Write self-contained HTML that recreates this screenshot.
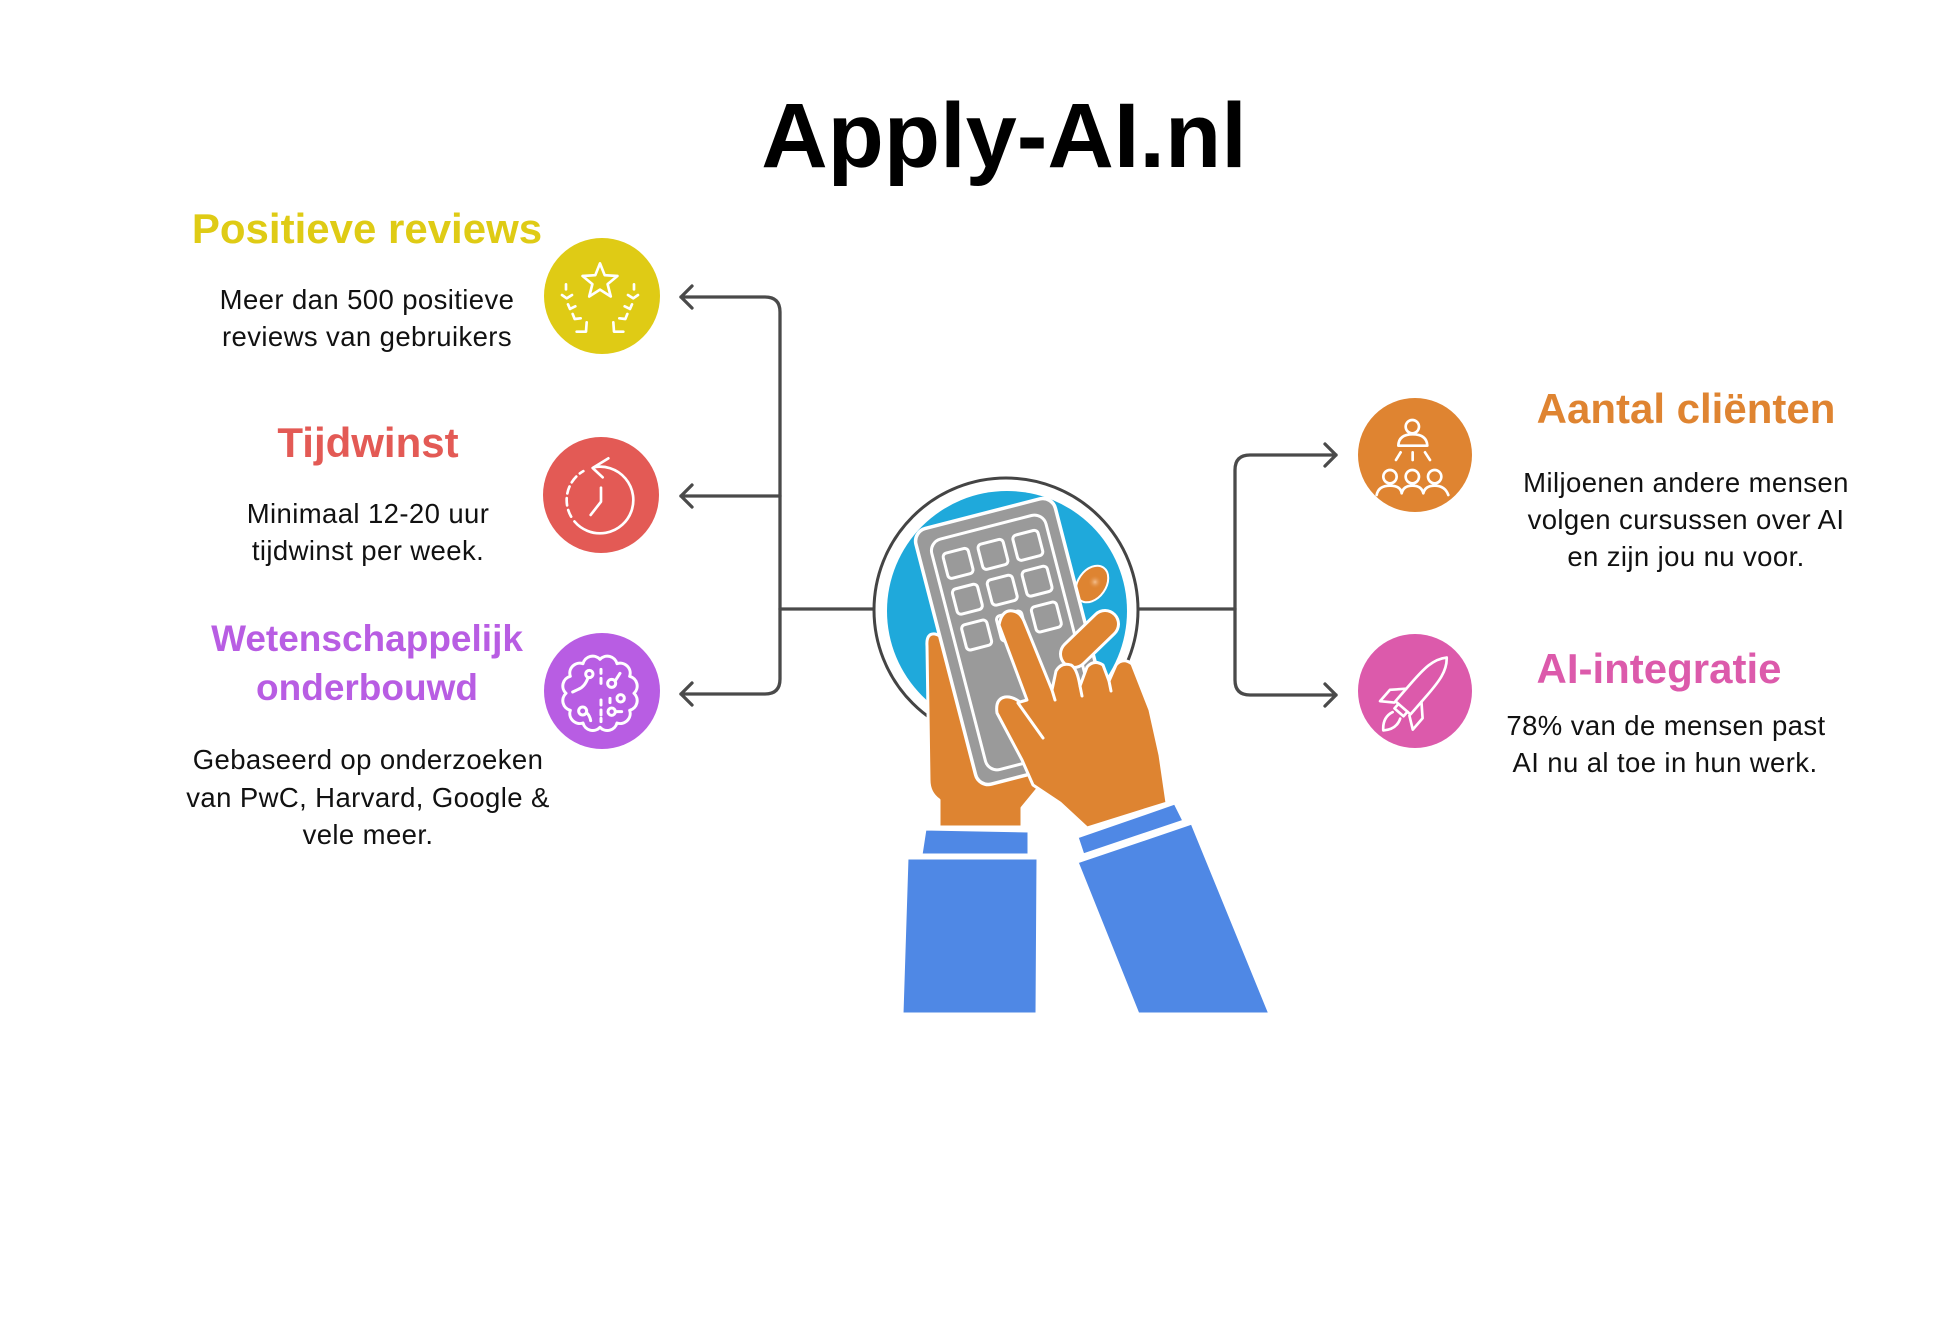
<!DOCTYPE html>
<html>
<head>
<meta charset="utf-8">
<style>
  html,body{margin:0;padding:0;background:#fff;}
  svg{display:block;}
</style>
</head>
<body>
<svg width="1946" height="1323" viewBox="0 0 1946 1323" xmlns="http://www.w3.org/2000/svg" font-family="'Liberation Sans', Arial, sans-serif">
  <defs>
    <radialGradient id="hl" cx="0.5" cy="0.5" r="0.5">
      <stop offset="0" stop-color="#F6C69A" stop-opacity="0.9"/>
      <stop offset="1" stop-color="#DE8431" stop-opacity="0"/>
    </radialGradient>
  </defs>
  <rect width="1946" height="1323" fill="#ffffff"/>

  <!-- Title -->
  <text x="1004" y="167" font-size="92" font-weight="700" text-anchor="middle" fill="#000">Apply-AI.nl</text>

  <!-- Left texts -->
  <text x="367" y="243" font-size="42" font-weight="700" text-anchor="middle" fill="#DFCB15">Positieve reviews</text>
  <g font-size="27.5" text-anchor="middle" fill="#111" letter-spacing="0.4">
    <text x="367" y="309">Meer dan 500 positieve</text>
    <text x="367" y="346">reviews van gebruikers</text>
  </g>

  <text x="368" y="457" font-size="42" font-weight="700" text-anchor="middle" fill="#E35A55">Tijdwinst</text>
  <g font-size="27.5" text-anchor="middle" fill="#111" letter-spacing="0.4">
    <text x="368" y="523">Minimaal 12-20 uur</text>
    <text x="368" y="560">tijdwinst per week.</text>
  </g>

  <g font-size="37" font-weight="700" text-anchor="middle" fill="#B85DE3">
    <text x="367" y="651">Wetenschappelijk</text>
    <text x="367" y="700">onderbouwd</text>
  </g>
  <g font-size="27.5" text-anchor="middle" fill="#111" letter-spacing="0.4">
    <text x="368" y="769">Gebaseerd op onderzoeken</text>
    <text x="368" y="807">van PwC, Harvard, Google &amp;</text>
    <text x="368" y="844">vele meer.</text>
  </g>

  <!-- Right texts -->
  <text x="1686" y="423" font-size="42" font-weight="700" text-anchor="middle" fill="#DF8431">Aantal cliënten</text>
  <g font-size="27.5" text-anchor="middle" fill="#111" letter-spacing="0.4">
    <text x="1686" y="492">Miljoenen andere mensen</text>
    <text x="1686" y="529">volgen cursussen over AI</text>
    <text x="1686" y="566">en zijn jou nu voor.</text>
  </g>

  <text x="1659" y="683" font-size="42" font-weight="700" text-anchor="middle" fill="#DC5AAB">AI-integratie</text>
  <g font-size="27.5" text-anchor="middle" fill="#111" letter-spacing="0.4">
    <text x="1666" y="735">78% van de mensen past</text>
    <text x="1665" y="772">AI nu al toe in hun werk.</text>
  </g>

  <!-- Connectors -->
  <g fill="none" stroke="#4a4a4a" stroke-width="3.3" stroke-linecap="round" stroke-linejoin="round">
    <path d="M681,297 H765 Q780,297 780,312 V679 Q780,694 765,694 H681"/>
    <path d="M681,496 H780"/>
    <path d="M780,609 H874"/>
    <path d="M692,286 L681,297 L692,308"/>
    <path d="M692,485 L681,496 L692,507"/>
    <path d="M692,683 L681,694 L692,705"/>

    <path d="M1336,455 H1250 Q1235,455 1235,470 V680 Q1235,695 1250,695 H1336"/>
    <path d="M1138,609 H1235"/>
    <path d="M1325,444 L1336,455 L1325,466"/>
    <path d="M1325,684 L1336,695 L1325,706"/>
  </g>

  <!-- Icon circles -->
  <circle cx="602" cy="296" r="58" fill="#DFCB15"/>
  <circle cx="601" cy="495" r="58" fill="#E35A55"/>
  <circle cx="602" cy="691" r="58" fill="#B85DE3"/>
  <circle cx="1415" cy="455" r="57" fill="#DF8431"/>
  <circle cx="1415" cy="691" r="57" fill="#DC5AAB"/>

  <!-- Yellow icon: star + laurel -->
  <g transform="translate(540,235) scale(0.3333)" fill="none" stroke="#fff" stroke-width="8" stroke-linecap="round" stroke-linejoin="round">
    <path d="M180,85 L194.1,120.6 L232.3,123 L202.8,147.4 L212.3,184.5 L180,164 L147.7,184.5 L157.2,147.4 L127.7,123 L165.9,120.6 Z"/>
    <path d="M78,148 L78,163"/>
    <path d="M66,180 L80,190 L96,180"/>
    <path d="M84,208 L90,222 L106,214"/>
    <path d="M98,237 L104,252 L122,250"/>
    <path d="M140,262 L138,290 L110,290"/>
    <path d="M282,148 L282,163"/>
    <path d="M294,180 L280,190 L264,180"/>
    <path d="M276,208 L270,222 L254,214"/>
    <path d="M262,237 L256,252 L238,250"/>
    <path d="M220,262 L222,290 L250,290"/>
  </g>

  <!-- Red icon: clock -->
  <g transform="translate(540,435) scale(0.3333)" fill="none" stroke="#fff" stroke-width="8" stroke-linecap="round" stroke-linejoin="round">
    <path d="M162.6,96.5 A100,100 0 1 1 103.4,259.3"/>
    <path d="M93.4,245 A100,100 0 0 1 130,108.4" stroke-dasharray="22 14"/>
    <path d="M205,70 L158,99 L188,127"/>
    <path d="M183,158 L183,200 L152,240"/>
  </g>

  <!-- Purple icon: brain -->
  <g transform="translate(540,630) scale(0.3333)" fill="none" stroke="#fff" stroke-width="9" stroke-linecap="round" stroke-linejoin="round">
    <path d="M180,88 A30,30 0 0 1 231,101 A30,30 0 0 1 269,139 A30,30 0 0 1 282,190 A30,30 0 0 1 269,241 A30,30 0 0 1 231,279 A30,30 0 0 1 180,292 A30,30 0 0 1 129,279 A30,30 0 0 1 91,241 A30,30 0 0 1 78,190 A30,30 0 0 1 91,139 A30,30 0 0 1 129,101 A30,30 0 0 1 180,88 Z"/>
    <path d="M183,118 L183,130 M183,145 L183,160 M183,210 L183,225 M183,240 L183,255 M183,265 L183,275"/>
    <circle cx="148" cy="132" r="11"/>
    <path d="M144,143 Q135,170 115,178 L98,186"/>
    <circle cx="215" cy="160" r="12"/>
    <path d="M226,152 L240,130"/>
    <circle cx="242" cy="205" r="11"/>
    <circle cx="128" cy="243" r="12"/>
    <path d="M140,248 Q150,258 152,272"/>
    <circle cx="215" cy="245" r="11"/>
    <path d="M226,245 L245,245"/>
    <path d="M210,205 L210,218"/>
  </g>

  <!-- Orange icon: presenter + audience -->
  <g transform="translate(1350,395) scale(0.3333)" fill="none" stroke="#fff" stroke-width="8" stroke-linecap="round" stroke-linejoin="round">
    <circle cx="187" cy="95" r="20"/>
    <path d="M145,152 Q146,118 188,118 Q230,118 232,152 Z"/>
    <path d="M152,172 L138,195 M188,172 L188,195 M225,172 L240,195"/>
    <circle cx="120" cy="245" r="20"/>
    <circle cx="187" cy="245" r="20"/>
    <circle cx="254" cy="245" r="20"/>
    <path d="M80,300 Q85,272 120,272 Q152,272 155,295 Q160,272 187,272 Q215,272 220,295 Q225,272 254,272 Q285,272 295,300"/>
  </g>

  <!-- Pink icon: rocket -->
  <g transform="translate(1350,630) scale(0.3333)">
    <g transform="translate(195,192) rotate(41) translate(0,5)" fill="none" stroke="#fff" stroke-width="8" stroke-linecap="round" stroke-linejoin="round">
      <path d="M0,-150 C28,-120 30,-80 30,-20 L30,50 L-30,50 L-30,-20 C-30,-80 -28,-120 0,-150 Z"/>
      <path d="M-30,0 L-65,35 L-65,80 L-30,55"/>
      <path d="M30,0 L65,35 L65,80 L30,55"/>
      <path d="M-18,50 L-18,68 L18,68 L18,50"/>
      <path d="M-15,80 Q-28,112 0,140 Q28,112 15,80"/>
    </g>
  </g>

  <!-- Central illustration -->
  <circle cx="1006" cy="610" r="132" fill="#fff" stroke="#444" stroke-width="3"/>
  <circle cx="1007" cy="611" r="120" fill="#1FA9DB"/>

  <!-- left hand -->
  <path d="M927,646 Q926,633 935,634 Q944,636 950,650 L1045,780 L1022,808 L1022,827 L939,827 L939,800 Q929,793 929,780 Z" fill="#DE8431" stroke="#fff" stroke-width="3" stroke-linejoin="round"/>

  <!-- back fingertip -->
  <ellipse cx="1092" cy="584" rx="14" ry="20" transform="rotate(35 1092 584)" fill="#DE8431" stroke="#fff" stroke-width="2"/>
  <circle cx="1095" cy="582" r="7" fill="url(#hl)"/>

  <!-- calculator -->
  <g transform="translate(1015.5,641.5) rotate(-14.5)">
    <rect x="-72" y="-132" width="144" height="264" rx="13" fill="#9A9A9A" stroke="#fff" stroke-width="3.5"/>
    <rect x="-59" y="-118" width="118" height="238" rx="12" fill="none" stroke="#fff" stroke-width="3"/>
    <g fill="#9A9A9A" stroke="#fff" stroke-width="3">
      <rect x="-49" y="-103" width="26" height="26" rx="4"/>
      <rect x="-13" y="-103" width="26" height="26" rx="4"/>
      <rect x="23" y="-103" width="26" height="26" rx="4"/>
      <rect x="-49" y="-66" width="26" height="26" rx="4"/>
      <rect x="-13" y="-66" width="26" height="26" rx="4"/>
      <rect x="23" y="-66" width="26" height="26" rx="4"/>
      <rect x="-49" y="-29" width="26" height="26" rx="4"/>
      <rect x="-13" y="-29" width="26" height="26" rx="4"/>
      <rect x="23" y="-29" width="26" height="26" rx="4"/>
    </g>
  </g>

  <!-- curled finger -->
  <line x1="1074" y1="654" x2="1105" y2="624" stroke="#fff" stroke-width="30" stroke-linecap="round"/>
  <line x1="1074" y1="654" x2="1105" y2="624" stroke="#DE8431" stroke-width="24" stroke-linecap="round"/>

  <!-- right hand -->
  <path d="M999,625 Q1002,609 1013,611 Q1020,612 1024,621 L1052,690 L1056,671 Q1061,662 1071,665 Q1077,668 1080,686 L1087,667 Q1094,659 1103,665 L1109,681 L1116,665 Q1123,657 1132,664 L1150,710 L1160,755 L1167,803 L1087,828 L1060,803 L1033,785 L1022,760 L997,713 Q995,699 1005,697 Q1012,696 1020,702 L1027,700 Z" fill="#DE8431" stroke="#fff" stroke-width="3" stroke-linejoin="round"/>
  <g stroke="#fff" stroke-width="3" stroke-linecap="round" fill="none">
    <path d="M1018,703 L1043,738"/>
    <path d="M1052,690 L1055,700"/>
    <path d="M1080,686 L1082,696"/>
    <path d="M1109,681 L1111,691"/>
  </g>

  <!-- sleeves -->
  <g fill="#4F88E5" stroke="#fff" stroke-width="3" stroke-linejoin="round">
    <path d="M925,829 L1029,831 L1029,855 L921,855 Z"/>
    <path d="M907,858 L1038,858 L1037,1014 L902,1014 Z"/>
    <path d="M1077,837 L1175,803 L1184,821 L1083,855 Z"/>
    <path d="M1077,862 L1192,823 L1270,1014 L1138,1014 Z"/>
  </g>
</svg>
</body>
</html>
